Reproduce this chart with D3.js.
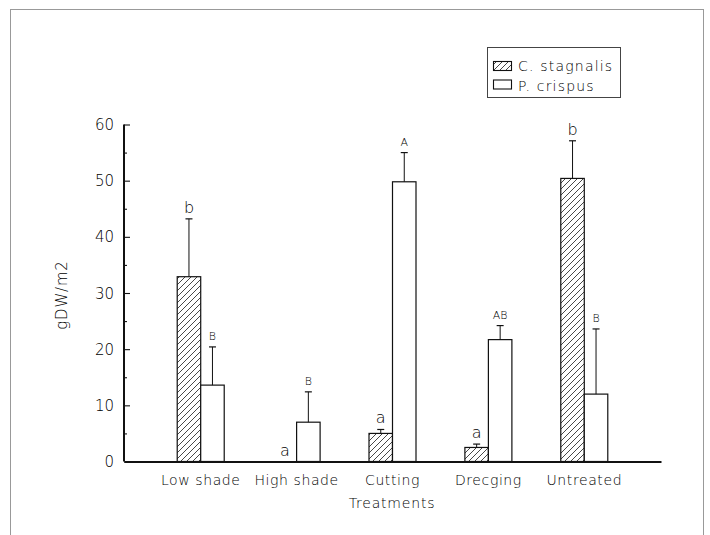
<!DOCTYPE html>
<html>
<head>
<meta charset="utf-8">
<script src="https://cdnjs.cloudflare.com/ajax/libs/d3/7.8.5/d3.min.js"></script>
<style>
  body { margin: 0; background: #fff; }
  text { font-family: "DejaVu Sans", sans-serif; fill: #000; }
</style>
</head>
<body>
<div id="svg"></div>
<script>

// data
var treatments = ["Low shade", "High shade", "Cutting", "Drecging", "Untreated"];
var stagnalis = [32.9, 0, 5.0, 2.5, 50.4];
var stagnalisErr = [43.2, 0, 5.7, 3.1, 57.1];
var stagnalisLetters = ["b", "a", "a", "a", "b"];
var crispus = [13.6, 7.0, 49.8, 21.7, 12.0];
var crispusErr = [20.4, 12.4, 55.0, 24.2, 23.6];
var crispusLetters = ["B", "B", "A", "AB", "B"];
var yTicks = [0, 10, 20, 30, 40, 50, 60];
var seriesNames = ["C. stagnalis", "P. crispus"];

var w = 710, h = 535;
var margin = {top: 124.5, right: 49, bottom: 73.5, left: 124};

var svg = d3.select("#svg")
    .append("svg")
    .attr("width", w)
    .attr("height", h);

// hatch pattern for C. stagnalis
var defs = svg.append("defs");
var pat = defs.append("pattern")
    .attr("id", "hatch")
    .attr("patternUnits", "userSpaceOnUse")
    .attr("width", 6)
    .attr("height", 6);
pat.append("path")
    .attr("d", "M-1,7 L7,-1 M-2,2 L2,-2 M4,8 L8,4")
    .attr("stroke", "#333")
    .attr("stroke-width", 0.9);

// scanned page frame
svg.append("rect")
    .attr("x", 10.5).attr("y", 9.5)
    .attr("width", 693).attr("height", 540)
    .attr("fill", "none")
    .attr("stroke", "#999")
    .attr("stroke-width", 1);

var x = d3.scaleBand()
    .domain(treatments)
    .range([margin.left, w - margin.right])
    .paddingInner(0)
    .paddingOuter(0.3);

var barW = 23.5;

var y = d3.scaleLinear()
    .domain([0, 60])
    .range([h - margin.bottom, margin.top]);

var g = svg.append("g");

function center(d) { return x(d) + x.bandwidth() / 2; }

// bars
treatments.forEach(function(t, i) {
    var cx = center(t);
    // C. stagnalis (hatched, left)
    if (stagnalis[i] > 0) {
        g.append("rect")
            .attr("x", cx - barW).attr("y", y(stagnalis[i]))
            .attr("width", barW).attr("height", y(0) - y(stagnalis[i]))
            .attr("fill", "url(#hatch)")
            .attr("stroke", "#111").attr("stroke-width", 1.2);
        g.append("line")
            .attr("x1", cx - barW / 2).attr("x2", cx - barW / 2)
            .attr("y1", y(stagnalis[i])).attr("y2", y(stagnalisErr[i]))
            .attr("stroke", "#111").attr("stroke-width", 1);
        g.append("line")
            .attr("x1", cx - barW / 2 - 3.5).attr("x2", cx - barW / 2 + 3.5)
            .attr("y1", y(stagnalisErr[i])).attr("y2", y(stagnalisErr[i]))
            .attr("stroke", "#111").attr("stroke-width", 1.2);
    }
    g.append("text")
        .attr("x", cx - barW / 2)
        .attr("y", y(stagnalisErr[i]) - 6)
        .attr("text-anchor", "middle")
        .attr("font-size", 16)
        .attr("font-weight", 200)
        .text(stagnalisLetters[i]);

    // P. crispus (open, right)
    g.append("rect")
        .attr("x", cx).attr("y", y(crispus[i]))
        .attr("width", barW).attr("height", y(0) - y(crispus[i]))
        .attr("fill", "#fff")
        .attr("stroke", "#111").attr("stroke-width", 1.2);
    g.append("line")
        .attr("x1", cx + barW / 2).attr("x2", cx + barW / 2)
        .attr("y1", y(crispus[i])).attr("y2", y(crispusErr[i]))
        .attr("stroke", "#111").attr("stroke-width", 1);
    g.append("line")
        .attr("x1", cx + barW / 2 - 3.5).attr("x2", cx + barW / 2 + 3.5)
        .attr("y1", y(crispusErr[i])).attr("y2", y(crispusErr[i]))
        .attr("stroke", "#111").attr("stroke-width", 1.2);
    g.append("text")
        .attr("x", cx + barW / 2)
        .attr("y", y(crispusErr[i]) - 7)
        .attr("text-anchor", "middle")
        .attr("font-size", 11)
        .attr("font-weight", 200)
        .text(crispusLetters[i]);
});

// y axis with inward ticks
var yAxis = d3.axisRight(y)
    .tickValues(d3.range(0, 61, 5))
    .tickSize(0)
    .tickFormat("");
var ya = svg.append("g")
    .attr("transform", "translate(" + margin.left + ",0)")
    .call(yAxis);
ya.select(".domain").remove();
ya.selectAll(".tick line")
    .attr("x2", function(d) { return d % 10 === 0 ? 6 : 3; })
    .attr("stroke", "#111")
    .attr("stroke-width", 1.1);

svg.append("line")
    .attr("x1", margin.left).attr("x2", margin.left)
    .attr("y1", y(60)).attr("y2", y(0))
    .attr("stroke", "#111").attr("stroke-width", 2);

svg.selectAll(".ylab")
    .data(yTicks)
    .enter().append("text")
    .attr("class", "ylab")
    .attr("x", margin.left - 10)
    .attr("y", function(d) { return y(d) + 5.5; })
    .attr("text-anchor", "end")
    .attr("font-size", 15)
    .attr("font-weight", 200)
    .text(function(d) { return d; });

// x axis
var xAxis = d3.axisBottom(x).tickSize(0).tickPadding(14);
var xa = svg.append("g")
    .attr("transform", "translate(0," + y(0) + ")")
    .call(xAxis);
xa.select(".domain")
    .attr("stroke", "#111").attr("stroke-width", 2);
xa.selectAll(".tick text")
    .attr("font-size", 14)
    .attr("font-weight", 200)
    .attr("letter-spacing", "0.6px")
    .style("font-family", "DejaVu Sans, sans-serif")
    .attr("fill", "#000");

svg.append("text")
    .attr("x", 392).attr("y", 508)
    .attr("text-anchor", "middle")
    .attr("font-size", 14)
    .attr("font-weight", 200)
    .attr("letter-spacing", "0.8px")
    .text("Treatments");

svg.append("text")
    .attr("transform", "translate(67,295) rotate(-90)")
    .attr("text-anchor", "middle")
    .attr("font-size", 15)
    .attr("font-weight", 200)
    .attr("letter-spacing", "0.8px")
    .text("gDW/m2");

// legend
var lg = svg.append("g");
lg.append("rect")
    .attr("x", 487.5).attr("y", 47.5)
    .attr("width", 133).attr("height", 50)
    .attr("fill", "#fff")
    .attr("stroke", "#444").attr("stroke-width", 1);
var fills = ["url(#hatch)", "#fff"];
seriesNames.forEach(function(s, i) {
    lg.append("rect")
        .attr("x", 493.5).attr("y", 61.5 + i * 18.5)
        .attr("width", 18).attr("height", 9)
        .attr("fill", fills[i])
        .attr("stroke", "#111").attr("stroke-width", 1.1);
    lg.append("text")
        .attr("x", 518).attr("y", 71 + i * 20)
        .attr("font-size", 14)
        .attr("font-weight", 200)
        .attr("letter-spacing", "1.2px")
        .text(s);
});

</script>
</body>
</html>
